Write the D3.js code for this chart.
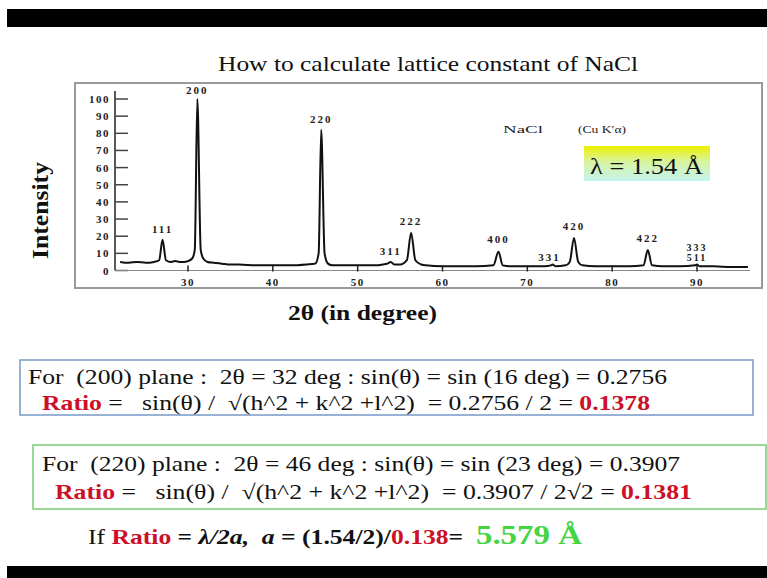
<!DOCTYPE html>
<html><head><meta charset="utf-8">
<script src="https://cdn.jsdelivr.net/npm/d3@7"></script>
<style>
html,body{margin:0;padding:0;background:#fff;}
svg{display:block;}
text{font-family:"Liberation Serif","Times New Roman",serif;}
</style></head>
<body>
<svg id="c" width="767" height="578"></svg>
<script>
// ---- data ----
const twoTheta = [22.0,23.0,24.0,25.0,26.0,26.6,27.0,27.4,28.0,28.5,29.0,29.5,30.0,30.5,30.8,31.1,31.5,31.8,32.3,33.0,34.0,35.0,36.0,38.0,40.0,42.0,44.0,45.0,45.4,45.7,46.1,46.5,47.0,48.0,50.0,52.0,53.0,53.5,53.9,54.3,55.0,55.8,56.3,56.8,57.5,58.0,60.0,62.0,64.0,66.0,66.6,67.1,68.0,70.0,72.0,72.8,73.0,73.3,74.5,75.0,75.5,76.0,76.5,78.0,80.0,82.0,83.7,84.2,84.7,86.0,88.0,89.8,90.0,90.3,92.0,94.0,96.0];
const intensity = [5,4.5,5,4.5,5,6,18,6,5,5.5,5,5,5.5,7,12,100,12,7,5,4.5,4,3.5,3.5,3,3,3,3.5,4,10,82,10,4,3,3,3,3,3.5,4,5,3.5,3.5,6,22,6,3.5,3,2.5,2.5,2.5,3,11,3,2.5,2.5,2.5,3,3.5,2.5,3,5,19,5,3,2.5,2.5,2.5,3,12,3,2.5,2.5,3,3.5,2.5,2.5,2,2];
const peakLabels = ["111","200","220","311","222","400","331","420","422","333","511"];
const peakPos    = [27.0,31.1,45.7,53.9,56.3,66.6,72.6,75.5,84.2,90.0,90.0];
const peakLabelY = [20,101,84,7,25,14,4,22,15,9.5,3.5];
const yTicks = [0,10,20,30,40,50,60,70,80,90,100];
const xTicks = [30,40,50,60,70,80,90];

const svg = d3.select("#c");
function fit(sel, w){ return sel.attr("textLength",w).attr("lengthAdjust","spacingAndGlyphs"); }

// top / bottom black bands
svg.append("rect").attr("x",7).attr("y",9).attr("width",760).attr("height",18).attr("fill","#000");
svg.append("rect").attr("x",7).attr("y",566).attr("width",760).attr("height",12).attr("fill","#000");

// title
fit(svg.append("text").attr("x",218).attr("y",71)
  .attr("font-size",22).attr("fill","#111").text("How to calculate lattice constant of NaCl"),420);

// chart frame
svg.append("rect").attr("x",75).attr("y",83).attr("width",687).attr("height",205)
  .attr("fill","none").attr("stroke","#9a9a9a").attr("stroke-width",2);

const x = d3.scaleLinear().domain([30,90]).range([188,697]);
const y = d3.scaleLinear().domain([0,100]).range([270.5,99]);

// y axis
const ya = svg.append("g").attr("transform","translate(115,0)");
ya.append("line").attr("x1",0).attr("x2",0).attr("y1",y(0)).attr("y2",91).attr("stroke","#222").attr("stroke-width",1.5);
ya.selectAll("line.t").data(yTicks).join("line").attr("class","t")
  .attr("x1",0).attr("x2",13).attr("y1",d=>y(d)).attr("y2",d=>y(d)).attr("stroke","#444").attr("stroke-width",1.5);
ya.selectAll("text").data(yTicks).join("text")
  .attr("x",-5).attr("y",d=>y(d)+4).attr("text-anchor","end").attr("font-size",11).attr("font-weight","bold")
  .attr("letter-spacing",1.5).attr("fill","#222").text(d=>d);

// x axis baseline and ticks
svg.append("line").attr("x1",115).attr("x2",750).attr("y1",y(0)).attr("y2",y(0)).attr("stroke","#888").attr("stroke-width",1.2);
svg.selectAll("line.xt").data(xTicks).join("line").attr("class","xt")
  .attr("x1",d=>x(d)).attr("x2",d=>x(d)).attr("y1",y(0)-5).attr("y2",y(0)+1).attr("stroke","#222").attr("stroke-width",1.5);
svg.selectAll("text.xl").data(xTicks).join("text").attr("class","xl")
  .attr("x",d=>x(d)).attr("y",286).attr("text-anchor","middle").attr("font-size",11).attr("font-weight","bold")
  .attr("letter-spacing",1.5).attr("fill","#222").text(d=>d);

// profile
const pts = twoTheta.map((t,i)=>[t,intensity[i]]);
svg.append("path").datum(pts)
  .attr("d",d3.line().x(d=>x(d[0])).y(d=>y(d[1])).curve(d3.curveMonotoneX))
  .attr("fill","none").attr("stroke","#111").attr("stroke-width",2).attr("stroke-linejoin","round");

// peak labels
svg.selectAll("text.pk").data(peakLabels).join("text").attr("class","pk")
  .attr("x",(d,i)=>x(peakPos[i])).attr("y",(d,i)=>y(peakLabelY[i])-3)
  .attr("text-anchor","middle").attr("font-size",(d,i)=>i>=9?10:11).attr("font-weight","bold").attr("letter-spacing",2)
  .attr("fill","#222").text(d=>d);

// NaCl (Cu Ka)
fit(svg.append("text").attr("x",503).attr("y",133).attr("font-size",11).attr("fill","#222").text("NaCl"),40);
fit(svg.append("text").attr("x",578).attr("y",133).attr("font-size",11).attr("fill","#222").text("(Cu K\u2032\u03b1)"),48);

// lambda box
const defs = svg.append("defs");
const g = defs.append("linearGradient").attr("id","lg").attr("x1",0).attr("x2",0).attr("y1",0).attr("y2",1);
g.append("stop").attr("offset","0%").attr("stop-color","#eef000");
g.append("stop").attr("offset","45%").attr("stop-color","#d8f4a0");
g.append("stop").attr("offset","100%").attr("stop-color","#c4f4ee");
svg.append("rect").attr("x",584).attr("y",146).attr("width",126).attr("height",35).attr("fill","url(#lg)");
fit(svg.append("text").attr("x",590).attr("y",174).attr("font-size",23).attr("fill","#111").text("\u03bb = 1.54 \u00c5"),113);

// axis titles
fit(svg.append("text").attr("transform","translate(48,259) rotate(-90)")
  .attr("font-size",23).attr("font-weight","bold").attr("fill","#111").text("Intensity"),97);
fit(svg.append("text").attr("x",288).attr("y",320)
  .attr("font-size",22).attr("font-weight","bold").attr("fill","#111").text("2\u03b8 (in degree)"),149);

// box 1
svg.append("rect").attr("x",20).attr("y",360).attr("width",733).attr("height",55)
  .attr("fill","none").attr("stroke","#7f9fcb").attr("stroke-width",1.6);
fit(svg.append("text").attr("x",28).attr("y",384).attr("font-size",21).attr("fill","#111").attr("xml:space","preserve")
  .text("For  (200) plane :  2\u03b8 = 32 deg : sin(\u03b8) = sin (16 deg) = 0.2756"),639);
const l2 = svg.append("text").attr("x",42).attr("y",410).attr("font-size",21).attr("fill","#111").attr("xml:space","preserve");
l2.append("tspan").attr("fill","#cc1028").attr("font-weight","bold").text("Ratio");
l2.append("tspan").text(" =   sin(\u03b8) /  \u221a(h^2 + k^2 +l^2)  = 0.2756 / 2 = ");
l2.append("tspan").attr("fill","#cc1028").attr("font-weight","bold").text("0.1378");
fit(l2,608);

// box 2
svg.append("rect").attr("x",33).attr("y",445).attr("width",733).attr("height",64)
  .attr("fill","none").attr("stroke","#7fd07f").attr("stroke-width",1.6);
fit(svg.append("text").attr("x",42).attr("y",471).attr("font-size",21).attr("fill","#111").attr("xml:space","preserve")
  .text("For  (220) plane :  2\u03b8 = 46 deg : sin(\u03b8) = sin (23 deg) = 0.3907"),638);
const l4 = svg.append("text").attr("x",55).attr("y",499).attr("font-size",21).attr("fill","#111").attr("xml:space","preserve");
l4.append("tspan").attr("fill","#cc1028").attr("font-weight","bold").text("Ratio");
l4.append("tspan").text(" =   sin(\u03b8) /  \u221a(h^2 + k^2 +l^2)  = 0.3907 / 2\u221a2 = ");
l4.append("tspan").attr("fill","#cc1028").attr("font-weight","bold").text("0.1381");
fit(l4,637);

// final line
const l5 = svg.append("text").attr("x",88).attr("y",544).attr("font-size",21).attr("fill","#111").attr("xml:space","preserve");
l5.append("tspan").text("If ");
l5.append("tspan").attr("fill","#cc1028").attr("font-weight","bold").text("Ratio");
l5.append("tspan").attr("font-weight","bold").text(" = ");
l5.append("tspan").attr("font-weight","bold").attr("font-style","italic").text("\u03bb/2a,  a");
l5.append("tspan").attr("font-weight","bold").text(" = (1.54/2)/");
l5.append("tspan").attr("fill","#cc1028").attr("font-weight","bold").text("0.138");
l5.append("tspan").attr("font-weight","bold").text("=  ");
l5.append("tspan").attr("fill","#44d444").attr("font-weight","bold").attr("font-size",27).text("5.579 \u00c5");
fit(l5,494);
</script>
</body></html>
